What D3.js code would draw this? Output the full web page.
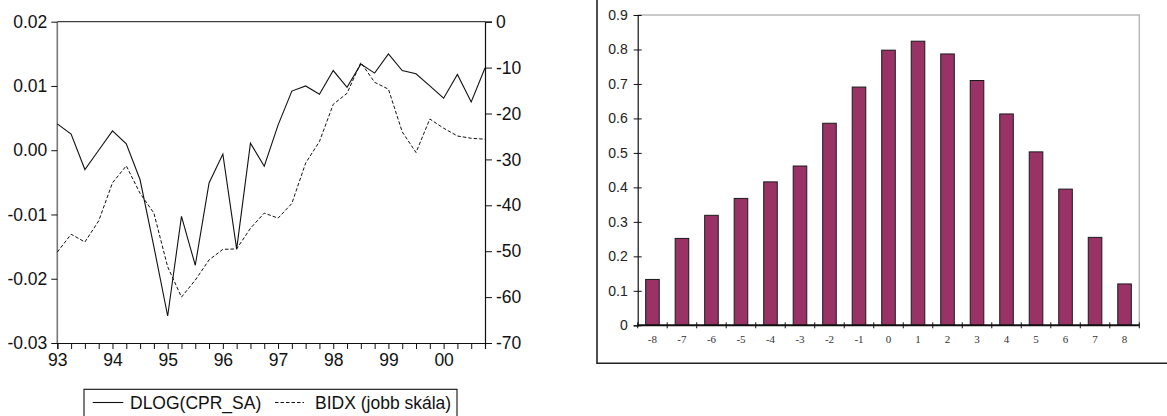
<!DOCTYPE html>
<html>
<head>
<meta charset="utf-8">
<script src="https://cdn.jsdelivr.net/npm/d3@7"></script>
<style>
  html, body { margin: 0; padding: 0; background: #fff; }
  svg { display: block; font-family: "Liberation Sans", Arial, sans-serif; }
</style>
</head>
<body>
<svg id="chart" width="1167" height="416"></svg>
<script>
// ---- Left panel: quarterly series, 1993Q1 - 2000Q4 ----
const years = ["93", "94", "95", "96", "97", "98", "99", "00"];
const quarters = years.flatMap(y => ["Q1", "Q2", "Q3", "Q4"].map(q => y + q));

// DLOG(CPR_SA), left scale
const dlog = [0.0041, 0.0025, -0.0030, 0.0000, 0.0030, 0.0010, -0.0046, -0.0150,
              -0.0258, -0.0103, -0.0179, -0.0051, -0.0006, -0.0154, 0.0011, -0.0025,
              0.0039, 0.0092, 0.0100, 0.0087, 0.0124, 0.0098, 0.0134, 0.0120,
              0.0150, 0.0124, 0.0119, 0.0100, 0.0081, 0.0118, 0.0075, 0.0128];

// BIDX, right scale
const bidx = [-50.2, -46.3, -48.0, -43.4, -35.1, -31.4, -37.4, -41.7,
              -53.4, -60.0, -56.3, -51.9, -49.6, -49.5, -45.0, -41.7,
              -42.8, -39.6, -30.8, -26.1, -18.0, -15.6, -8.9, -13.2,
              -14.7, -24.0, -28.5, -21.2, -23.2, -24.9, -25.4, -25.6];

const leftTicks = [-0.03, -0.02, -0.01, 0.00, 0.01, 0.02];
const rightTicks = [-70, -60, -50, -40, -30, -20, -10, 0];
const legendLabels = ["DLOG(CPR_SA)", "BIDX (jobb skála)"];

// ---- Right panel: correlogram by lag ----
const lags = [-8, -7, -6, -5, -4, -3, -2, -1, 0, 1, 2, 3, 4, 5, 6, 7, 8];
const corr = [0.133, 0.252, 0.319, 0.368, 0.416, 0.462, 0.586, 0.691, 0.798,
              0.824, 0.787, 0.710, 0.613, 0.503, 0.395, 0.255, 0.120];
const corrTicks = [0, 0.1, 0.2, 0.3, 0.4, 0.5, 0.6, 0.7, 0.8, 0.9];

const svg = d3.select("#chart");
const loc = d3.formatLocale({decimal: ".", thousands: ",", grouping: [3], currency: ["", ""], minus: "-"});
const SANS = "Liberation Sans, Arial, sans-serif";
const SERIF = "Liberation Serif, Times New Roman, serif";

// ================= Left panel =================
const L = {left: 57.3, right: 485, top: 21.7, bottom: 343};
const x = d3.scaleLinear().domain([0, quarters.length - 1]).range([L.left, L.right]);
const yL = d3.scaleLinear().domain([-0.03, 0.02]).range([L.bottom, L.top]);
const yR = d3.scaleLinear().domain([-70, 0]).range([L.bottom, L.top]);

const gl = svg.append("g");

// frame
gl.append("line").attr("x1", L.left).attr("x2", L.right).attr("y1", L.top).attr("y2", L.top)
  .attr("stroke", "#111").attr("stroke-width", 1);
gl.append("line").attr("x1", L.left).attr("x2", L.left).attr("y1", L.top).attr("y2", L.bottom)
  .attr("stroke", "#777").attr("stroke-width", 1.6);

const axL = gl.append("g").attr("transform", `translate(${L.left},0)`)
  .call(d3.axisLeft(yL).tickValues(leftTicks).tickFormat(loc.format(".2f")).tickSize(6).tickPadding(4));
const axR = gl.append("g").attr("transform", `translate(${L.right},0)`)
  .call(d3.axisRight(yR).tickValues(rightTicks).tickFormat(loc.format("d")).tickSize(7).tickPadding(4));
const axB = gl.append("g").attr("transform", `translate(0,${L.bottom})`)
  .call(d3.axisBottom(x).tickValues(d3.range(quarters.length))
    .tickFormat(i => i % 4 === 0 ? years[i / 4] : "").tickSize(6).tickPadding(5));

axL.select(".domain").remove();
[axL, axR, axB].forEach(a => {
  a.selectAll("text").attr("font-size", 17.5).attr("font-family", SANS).attr("fill", "#111");
  a.selectAll("line").attr("stroke", "#111");
  a.select(".domain").attr("stroke", "#111").attr("stroke-width", 1.2);
});

// series
const lineL = d3.line().x((d, i) => x(i)).y(d => yL(d));
const lineR = d3.line().x((d, i) => x(i)).y(d => yR(d));
gl.append("path").datum(dlog).attr("d", lineL)
  .attr("fill", "none").attr("stroke", "#111").attr("stroke-width", 1.1);
gl.append("path").datum(bidx).attr("d", lineR)
  .attr("fill", "none").attr("stroke", "#111").attr("stroke-width", 1).attr("stroke-dasharray", "3.5,2");

// legend
const lg = svg.append("g");
lg.append("rect").attr("x", 84).attr("y", 389.3).attr("width", 373).attr("height", 40)
  .attr("fill", "#fff").attr("stroke", "#111").attr("stroke-width", 1.1);
lg.append("line").attr("x1", 92.7).attr("x2", 123.3).attr("y1", 402.5).attr("y2", 402.5)
  .attr("stroke", "#111").attr("stroke-width", 1.1);
lg.append("text").attr("x", 130).attr("y", 408.5).attr("font-size", 17.5).attr("font-family", SANS)
  .attr("fill", "#111").text(legendLabels[0]);
lg.append("line").attr("x1", 275).attr("x2", 304).attr("y1", 402.5).attr("y2", 402.5)
  .attr("stroke", "#111").attr("stroke-width", 1).attr("stroke-dasharray", "3.5,2");
lg.append("text").attr("x", 315).attr("y", 408.5).attr("font-size", 17.5).attr("font-family", SANS)
  .attr("fill", "#111").text(legendLabels[1]);

// ================= Right panel =================
const B = {left: 637.7, right: 1139.3, top: 15, bottom: 325.3};

// outer box
svg.append("path").attr("d", "M597,-2V363.3H1170")
  .attr("fill", "none").attr("stroke", "#222").attr("stroke-width", 1.6);

const xb = d3.scaleBand().domain(lags).range([B.left, B.right]).paddingInner(0.54).paddingOuter(0.27);
const yb = d3.scaleLinear().domain([0, 0.9]).range([B.bottom, B.top]);
const gr = svg.append("g");

// light plot-area border (top and right)
gr.append("path").attr("d", `M${B.left},${B.top}H${B.right}V${B.bottom}`)
  .attr("fill", "none").attr("stroke", "#b8b8b8").attr("stroke-width", 1.5);

// bars
gr.selectAll("rect.bar").data(lags).enter().append("rect").attr("class", "bar")
  .attr("x", d => xb(d))
  .attr("width", xb.bandwidth())
  .attr("y", (d, i) => yb(corr[i]))
  .attr("height", (d, i) => yb(0) - yb(corr[i]))
  .attr("fill", "#993366").attr("stroke", "#1a1a1a").attr("stroke-width", 1);

// y axis
const axY = gr.append("g").attr("transform", `translate(${B.left},0)`)
  .call(d3.axisLeft(yb).tickValues(corrTicks).tickFormat(d => d === 0 ? "0" : d3.format(".1f")(d)).tickSize(4).tickPadding(6));
axY.selectAll(".tick line").attr("x1", 4).attr("stroke", "#111");
axY.select(".domain").attr("stroke", "#111").attr("stroke-width", 1.2);
axY.selectAll("text").attr("font-size", 14).attr("fill", "#222").attr("font-family", SANS);

// x axis: line, boundary ticks, lag labels
const step = xb.step();
const bounds = lags.map(d => xb(d) - step * 0.27).concat([B.right]);
gr.append("line").attr("x1", B.left).attr("x2", B.right).attr("y1", B.bottom).attr("y2", B.bottom)
  .attr("stroke", "#111").attr("stroke-width", 2);
gr.selectAll("line.xt").data(bounds).enter().append("line").attr("class", "xt")
  .attr("x1", d => d).attr("x2", d => d).attr("y1", B.bottom - 3).attr("y2", B.bottom + 3)
  .attr("stroke", "#111").attr("stroke-width", 1);
gr.selectAll("text.xl").data(lags).enter().append("text").attr("class", "xl")
  .attr("x", d => xb(d) + xb.bandwidth() / 2).attr("y", 343)
  .attr("text-anchor", "middle").attr("font-size", 11)
  .attr("font-family", SERIF).attr("fill", "#333")
  .text(d => d);
</script>
</body>
</html>
